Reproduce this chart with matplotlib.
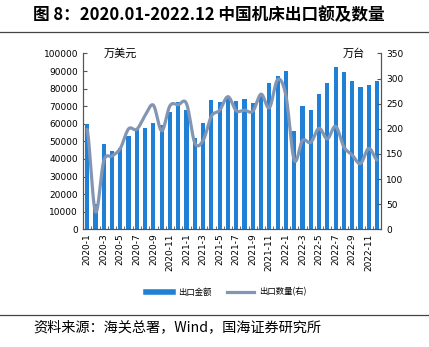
import numpy as np
import matplotlib
matplotlib.use("Agg")
import matplotlib.pyplot as plt
from matplotlib.lines import Line2D

plt.rcParams['font.family'] = ['Noto Sans CJK SC', 'DejaVu Sans']

months = [f"{y}-{m}" for y in (2020, 2021, 2022) for m in range(1, 13)]
export_value = [60000, 14400, 48500, 44500, 46500, 53200, 57200, 57500, 60400, 59300,
                66800, 72300, 67800, 52000, 60400, 73500, 72300, 75000, 72900, 74200,
                71600, 76300, 83100, 87100, 89900, 55800, 70000, 67600, 76700, 83100,
                92400, 89400, 84400, 80700, 81800, 84400]
export_qty = [199, 35, 136, 146, 161, 200, 199, 227, 247, 196, 246, 248, 250, 172, 177,
              225, 237, 264, 236, 237, 235, 269, 242, 298, 266, 138, 177, 173, 201, 180,
              205, 164, 148, 131, 161, 138]
tick_labels = months[::2]

bar_color = '#1F80D6'
line_color = '#8296B4'

fig = plt.figure(figsize=(4.29, 3.47), dpi=100)
ax = fig.add_axes([0.1935, 0.339, 0.695, 0.507])
x = np.arange(len(months))
ax.bar(x, export_value, width=0.5, color=bar_color, zorder=2)
ax.set_ylim(0, 100000)
ax.set_yticks(np.arange(0, 100001, 10000))
ax.set_xlim(-0.4, len(months) - 0.6)
ax.set_xticks(x[::2])
ax.set_xticklabels(tick_labels, rotation=90, fontsize=6.5, family=['DejaVu Sans'])
ax.set_xticks(np.arange(-0.5, len(months), 1), minor=True)
ax.tick_params(axis='x', which='major', length=0, pad=3)
ax.tick_params(axis='x', which='minor', direction='in', length=2.5, color='#555555')
ax.tick_params(axis='y', direction='in', length=3, labelsize=6.5, color='#555555')
for lab in ax.get_yticklabels():
    lab.set_family(['DejaVu Sans'])
ax.spines['top'].set_visible(False)
for s in ('left', 'right', 'bottom'):
    ax.spines[s].set_color('#555555')
    ax.spines[s].set_linewidth(0.8)

# smooth line (Catmull-Rom) for right axis
ax2 = ax.twinx()
p = np.array(export_qty, dtype=float)
pts_x, pts_y = [], []
n = len(p)
for i in range(n - 1):
    p0 = p[i - 1] if i > 0 else p[i]
    p3 = p[i + 2] if i + 2 < n else p[i + 1]
    p1, p2 = p[i], p[i + 1]
    t = np.linspace(0, 1, 20, endpoint=False)
    yy = 0.5 * ((2 * p1) + (-p0 + p2) * t + (2 * p0 - 5 * p1 + 4 * p2 - p3) * t ** 2
                + (-p0 + 3 * p1 - 3 * p2 + p3) * t ** 3)
    pts_x.extend(i + t)
    pts_y.extend(yy)
pts_x.append(n - 1)
pts_y.append(p[-1])
ax2.plot(pts_x, pts_y, color=line_color, lw=2.3, solid_capstyle='round', zorder=3)
ax2.set_ylim(0, 350)
ax2.set_yticks(np.arange(0, 351, 50))
ax2.tick_params(axis='y', direction='in', length=3, labelsize=6.5, color='#555555')
for lab in ax2.get_yticklabels():
    lab.set_family(['DejaVu Sans'])
ax2.spines['top'].set_visible(False)
for s in ('left', 'right', 'bottom'):
    ax2.spines[s].set_color('#555555')
    ax2.spines[s].set_linewidth(0.8)

ax.text(0.07, 1.0, '万美元', transform=ax.transAxes, fontsize=8, va='center', ha='left')
ax.text(0.87, 1.0, '万台', transform=ax.transAxes, fontsize=8, va='center', ha='left')

handles = [Line2D([0], [0], color=bar_color, lw=4), Line2D([0], [0], color=line_color, lw=2.3)]
fig.legend(handles, ['出口金额', '出口数量(右)'], loc='center', bbox_to_anchor=(0.527, 0.158),
           ncol=2, frameon=False, fontsize=6, handlelength=3.3, columnspacing=1.8, handletextpad=0.6)

fig.text(0.077, 0.955, '图 8：2020.01-2022.12 中国机床出口额及数量', fontsize=12, fontweight='bold',
         va='center', ha='left')
fig.add_artist(Line2D([0, 1], [1 - 32 / 347, 1 - 32 / 347], color='#444444', lw=0.9))
fig.add_artist(Line2D([0, 1], [1 - 315 / 347, 1 - 315 / 347], color='#444444', lw=0.9))
fig.text(0.077, 1 - 327 / 347, '资料来源：海关总署，Wind，国海证券研究所', fontsize=10.2, va='center', ha='left')

fig.savefig('out.png', dpi=100)
